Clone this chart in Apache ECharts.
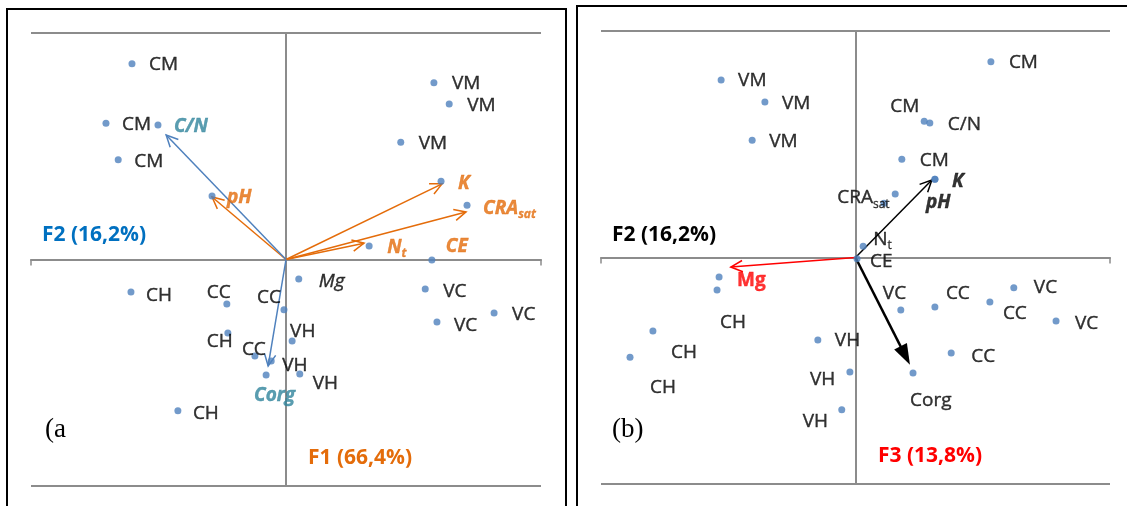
<!DOCTYPE html>
<html>
<head>
<meta charset="utf-8">
<script src="https://cdn.jsdelivr.net/npm/echarts@6/dist/echarts.min.js"></script>
<style>
html, body { margin: 0; padding: 0; background: #fff; }
#chart { width: 1127px; height: 506px; }
</style>
</head>
<body>
<div id="chart"></div>
<script>
// ---- panel (a) : scores + variables ----
var namesA = ['CM', 'CM', 'C/N', 'CM', 'pH', 'VM', 'VM', 'VM', 'K', 'CRA{s|sat}', 'N{s|t}', 'CE', 'Mg',
  'CH', 'CC', 'CC', 'CH', 'VH', 'CC', 'VH', 'Corg', 'VH', 'CH', 'VC', 'VC', 'VC']
var xA = [-3.02, -3.53, -2.51, -3.29, -1.45, 2.90, 3.20, 2.25, 3.04, 3.55, 1.63, 2.86, 0.25,
  -3.04, -1.16, -0.04, -1.14, 0.12, -0.61, -0.29, -0.39, 0.27, -2.12, 2.73, 2.96, 4.08]
var yA = [4.32, 3.01, 2.97, 2.20, 1.40, 3.90, 3.43, 2.59, 1.73, 1.20, 0.30, -0.01, -0.43,
  -0.72, -0.98, -1.11, -1.62, -1.80, -2.13, -2.24, -2.55, -2.53, -3.34, -0.65, -1.38, -1.18]
var kindA = ['obs', 'obs', 'teal', 'obs', 'orange', 'obs', 'obs', 'obs', 'orange', 'orange', 'orange', 'orange', 'ital',
  'obs', 'obs', 'obs', 'obs', 'obs', 'obs', 'obs', 'teal', 'obs', 'obs', 'obs', 'obs', 'obs']
// label offset from the dot, px
var offA = [[17, 1], [16, 1], [16, 2], [16, 2], [15, 2], [18, 1], [18, 1], [18, 1], [17, 2], [16, 3], [18, 2], [14, -13], [20, 3],
  [15, 3], [-20, -11], [-27, -12], [-21, 9], [-2, -9], [-13, -6], [11, 5], [-12, 21], [13, 9], [15, 3], [18, 3], [17, 4], [18, 2]]

var arrowsAOrange = [[-1.45, 1.38], [3.06, 1.67], [3.53, 1.05], [1.53, 0.36]]
var arrowsABlue = [[-2.35, 2.75], [-0.35, -2.35]]

// ---- panel (b) ----
var namesB = ['CM', 'VM', 'VM', 'VM', 'CM', 'C/N', 'CM', 'K', 'pH', 'CRA{s|sat}', '', 'N{s|t}', 'CE', 'Mg',
  'CH', 'CH', 'CH', 'VH', 'VH', 'VH', 'VC', 'CC', 'CC', 'VC', 'VC', 'CC', 'Corg']
var xB = [2.66, -2.64, -1.78, -2.03, 1.35, 1.46, 0.91, 1.56, 1.56, 0.78, 0.56, 0.15, 0.03, -2.68,
  -2.72, -3.98, -4.43, -0.74, -0.11, -0.27, 0.89, 1.56, 2.64, 3.11, 3.94, 1.88, 1.13]
var yB = [4.32, 3.92, 3.43, 2.59, 3.01, 2.97, 2.17, 1.73, 1.73, 1.40, 1.20, 0.25, -0.03, -0.43,
  -0.72, -1.62, -2.20, -1.82, -2.53, -3.36, -1.16, -1.09, -0.98, -0.67, -1.40, -2.11, -2.55]
var kindB = ['obs', 'obs', 'obs', 'obs', 'obs', 'obs', 'obs', 'bi', 'bi', 'obs', 'none', 'obs', 'obs', 'red',
  'obs', 'obs', 'obs', 'obs', 'obs', 'obs', 'obs', 'obs', 'obs', 'obs', 'obs', 'obs', 'obs']
var offB = [[18, 1], [17, 1], [17, 1], [17, 1], [-34, -15], [18, 2], [18, 1], [17, 2], [-9, 23], [-58, 4], [0, 0], [10, -7], [13, 3], [18, 4],
  [3, 32], [18, 22], [20, 30], [17, 1], [-40, 7], [-39, 12], [-18, -16], [11, -13], [13, 12], [20, 0], [19, 3], [20, 4], [-3, 28]]

var arrowsBBlack = [[1.50, 1.71]]
var arrowsBRed = [[-2.45, -0.21]]
var arrowsBThick = [[1.07, -2.37]]

var FONT = '"Open Sans", "Noto Sans", sans-serif'
var labelKinds = {
  obs: { color: '#000', fontStyle: 'normal', fontWeight: 'normal' },
  teal: { color: '#31859C', fontStyle: 'italic', fontWeight: 'bold' },
  orange: { color: '#E46C0A', fontStyle: 'italic', fontWeight: 'bold' },
  ital: { color: '#000', fontStyle: 'italic', fontWeight: 'normal' },
  bi: { color: '#000', fontStyle: 'italic', fontWeight: 'bold' },
  red: { color: '#FF0000', fontStyle: 'normal', fontWeight: 'bold' }
}

function buildPoints(names, xs, ys, kinds, offs) {
  return names.map(function (n, i) {
    var k = labelKinds[kinds[i]]
    var item = { value: [xs[i], ys[i]] }
    if (!k) {
      item.label = { show: false }
      return item
    }
    item.label = {
      show: true,
      formatter: n,
      position: [3.5 + offs[i][0], 3.5 + offs[i][1]],
      align: 'left',
      verticalAlign: 'middle',
      fontFamily: FONT,
      fontSize: 19,
      color: k.color,
      fontStyle: k.fontStyle,
      fontWeight: k.fontWeight,
      textBorderColor: k.color,
      textBorderWidth: 0.4,
      rich: {
        s: {
          fontFamily: FONT,
          fontSize: 12,
          color: k.color,
          fontStyle: k.fontStyle,
          fontWeight: k.fontWeight,
          textBorderColor: k.color,
          textBorderWidth: 0.3,
          padding: [12, 0, 0, 0]
        }
      }
    }
    return item
  })
}

function arrowRender(color, width, headLen, half, filled) {
  return function (params, api) {
    var o = api.coord([0, 0])
    var t = api.coord([api.value(0), api.value(1)])
    var a = Math.atan2(t[1] - o[1], t[0] - o[0])
    var l = [t[0] - headLen * Math.cos(a - half), t[1] - headLen * Math.sin(a - half)]
    var r = [t[0] - headLen * Math.cos(a + half), t[1] - headLen * Math.sin(a + half)]
    var end = filled ? [t[0] - headLen * 0.8 * Math.cos(a), t[1] - headLen * 0.8 * Math.sin(a)] : t
    var head = filled
      ? { type: 'polygon', shape: { points: [l, t, r] }, style: { fill: color } }
      : { type: 'polyline', shape: { points: [l, t, r] }, style: { stroke: color, lineWidth: width, fill: null } }
    return {
      type: 'group',
      children: [
        { type: 'line', shape: { x1: o[0], y1: o[1], x2: end[0], y2: end[1] }, style: { stroke: color, lineWidth: width } },
        head
      ]
    }
  }
}

function arrowSeries(idx, data, color, width, headLen, half, filled) {
  return {
    type: 'custom',
    xAxisIndex: idx,
    yAxisIndex: idx,
    silent: true,
    z: 1,
    encode: { x: 0, y: 1 },
    renderItem: arrowRender(color, width, headLen, half, filled),
    data: data
  }
}

var axisGray = '#8c8c8c'
function xAx(idx) {
  return {
    type: 'value', gridIndex: idx, min: -5, max: 5, interval: 5,
    axisLine: { show: true, onZero: true, lineStyle: { color: axisGray, width: 2 } },
    axisTick: { show: true, length: 6, lineStyle: { color: axisGray, width: 1.5 } },
    axisLabel: { show: false },
    splitLine: { show: false }
  }
}
function yAx(idx) {
  return {
    type: 'value', gridIndex: idx, min: -5, max: 5, interval: 5,
    axisLine: { show: true, onZero: true, lineStyle: { color: axisGray, width: 2 } },
    axisTick: { show: false },
    axisLabel: { show: false },
    splitLine: { show: true, lineStyle: { color: axisGray, width: 2 } }
  }
}

function panelText(x, y, text, color, serif) {
  return {
    type: 'text', x: x, y: y, z: 10,
    style: {
      text: text,
      fill: color,
      fontFamily: serif ? '"Liberation Serif", serif' : FONT,
      fontSize: serif ? 27 : 21,
      fontWeight: serif ? 'normal' : 'bold',
      verticalAlign: 'middle'
    }
  }
}

var chart = echarts.init(document.getElementById('chart'))
chart.setOption({
  animation: false,
  grid: [
    { left: 31, top: 33, width: 510, height: 453, outerBoundsMode: 'none' },
    { left: 601, top: 31, width: 509, height: 453, outerBoundsMode: 'none' }
  ],
  xAxis: [xAx(0), xAx(1)],
  yAxis: [yAx(0), yAx(1)],
  graphic: [
    { type: 'rect', shape: { x: 7, y: 9, width: 559, height: 540 }, style: { fill: null, stroke: '#000', lineWidth: 2 } },
    { type: 'rect', shape: { x: 577, y: 6, width: 600, height: 540 }, style: { fill: null, stroke: '#000', lineWidth: 2 } },
    panelText(42, 235, 'F2 (16,2%)', '#0070C0'),
    panelText(308, 458, 'F1 (66,4%)', '#E46C0A'),
    panelText(45, 430, '(a', '#000', true),
    panelText(612, 235, 'F2 (16,2%)', '#000'),
    panelText(878, 456, 'F3 (13,8%)', '#FF0000'),
    panelText(612, 430, '(b)', '#000', true)
  ],
  series: [
    arrowSeries(0, arrowsAOrange, '#E46C0A', 1.5, 13, 0.45, false),
    arrowSeries(0, arrowsABlue, '#4F81BD', 1.5, 13, 0.45, false),
    arrowSeries(1, arrowsBBlack, '#000', 1.5, 13, 0.45, false),
    arrowSeries(1, arrowsBRed, '#FF0000', 1.5, 13, 0.45, false),
    arrowSeries(1, arrowsBThick, '#000', 2.5, 22, 0.33, true),
    {
      type: 'scatter', xAxisIndex: 0, yAxisIndex: 0, z: 2,
      symbolSize: 7, itemStyle: { color: '#4F81BD' },
      data: buildPoints(namesA, xA, yA, kindA, offA)
    },
    {
      type: 'scatter', xAxisIndex: 1, yAxisIndex: 1, z: 2,
      symbolSize: 7, itemStyle: { color: '#4F81BD' },
      data: buildPoints(namesB, xB, yB, kindB, offB)
    }
  ]
})
</script>
</body>
</html>
